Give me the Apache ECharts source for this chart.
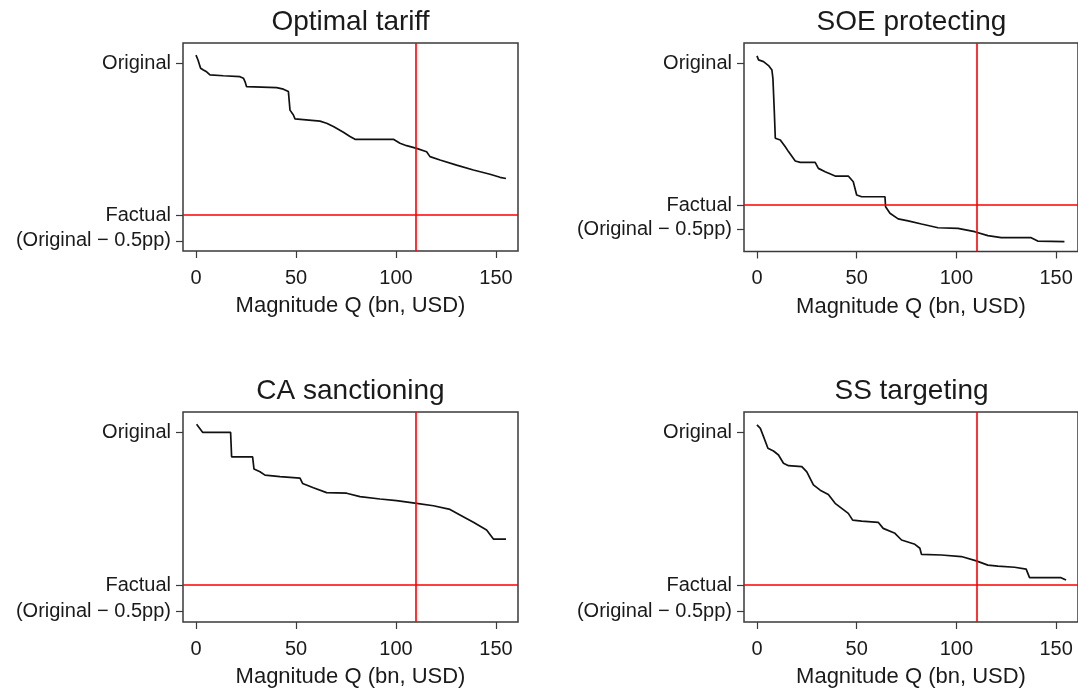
<!DOCTYPE html>
<html>
<head>
<meta charset="utf-8">
<script src="https://cdn.jsdelivr.net/npm/echarts@6/dist/echarts.min.js"></script>
<style>
html,body{margin:0;padding:0;background:#fff;}
#chart{width:1078px;height:690px;}
</style>
</head>
<body>
<div id="chart"></div>
<script>
// ---- Data ----
const panelTitles = ['Optimal tariff', 'SOE protecting', 'CA sanctioning', 'SS targeting'];
const xAxisName = 'Magnitude Q (bn, USD)';
const xTickValues = [0, 50, 100, 150];
const yTickValues = [0.5, 0, -0.085];
const yTickLabels = ['Original', 'Factual', '(Original \u2212 0.5pp)'];
const refQ = 110;      // vertical red reference line
const refFactual = 0;  // horizontal red reference line (Factual)

const optimalTariffQ = [0, 1, 2.3, 3.7, 5.3, 7, 13.7, 22, 23.7, 24.5, 25.3, 26.2, 40.3, 43.7, 46.2, 47, 48.7, 49.5, 62, 65.3, 68.7, 73.7, 77, 79.5, 98.7, 102, 105.3, 110.3, 115.3, 117, 122, 130.3, 138.7, 147, 152, 155];
const optimalTariffV = [0.526, 0.51, 0.483, 0.477, 0.471, 0.461, 0.458, 0.455, 0.45, 0.439, 0.422, 0.419, 0.419, 0.414, 0.406, 0.345, 0.329, 0.316, 0.309, 0.302, 0.291, 0.272, 0.258, 0.249, 0.249, 0.236, 0.228, 0.219, 0.208, 0.192, 0.181, 0.164, 0.148, 0.134, 0.124, 0.12];

const soeQ = [0, 0.8, 3.3, 5.8, 7.5, 8, 8.7, 9.2, 11.7, 14.2, 15.8, 19.2, 21.7, 29.2, 30.8, 34.2, 39.2, 45.8, 48.3, 50, 52.5, 64.2, 64.5, 66.7, 70.8, 75.8, 82.5, 90.8, 100.8, 109.2, 115.8, 122.5, 137.5, 140.8, 154.2];
const soeV = [0.525, 0.511, 0.505, 0.491, 0.475, 0.446, 0.329, 0.235, 0.229, 0.205, 0.188, 0.155, 0.150, 0.150, 0.129, 0.117, 0.102, 0.102, 0.082, 0.035, 0.029, 0.029, -0.006, -0.029, -0.049, -0.056, -0.067, -0.080, -0.082, -0.094, -0.108, -0.115, -0.115, -0.127, -0.129];

const caQ = [0.3, 3.3, 17.3, 17.8, 28.3, 29, 32, 34.5, 42, 52, 53.3, 58.7, 65.3, 75.3, 82, 92, 100.3, 110.3, 118.7, 127, 132, 138.7, 145.3, 148.7, 152, 155];
const caV = [0.525, 0.499, 0.499, 0.419, 0.419, 0.379, 0.370, 0.359, 0.354, 0.349, 0.332, 0.318, 0.302, 0.300, 0.289, 0.281, 0.276, 0.267, 0.259, 0.247, 0.229, 0.205, 0.180, 0.150, 0.150, 0.150];

const ssQ = [0, 1.7, 3.3, 5.5, 8.3, 10.8, 13.3, 15.8, 22.5, 25, 28.3, 31.7, 35.8, 39.2, 45.8, 48, 52.5, 60.8, 63.3, 69.2, 72.5, 79.2, 81.7, 82.5, 92.5, 102.5, 110, 115.8, 120.8, 129.2, 135, 136.7, 152.5, 155];
const ssV = [0.523, 0.512, 0.485, 0.447, 0.438, 0.425, 0.398, 0.390, 0.387, 0.370, 0.327, 0.310, 0.296, 0.267, 0.234, 0.212, 0.209, 0.205, 0.185, 0.169, 0.147, 0.133, 0.120, 0.100, 0.098, 0.093, 0.079, 0.065, 0.062, 0.058, 0.052, 0.024, 0.024, 0.016];

const panelQ = [optimalTariffQ, soeQ, caQ, ssQ];
const panelV = [optimalTariffV, soeV, caV, ssV];
const xMin = [-6.5, -6.5, -6.5, -6.5];
const xMax = [161, 161, 161, 161];
const yMin = [-0.1184, -0.1637, -0.1209, -0.1209];
const yMax = [0.5658, 0.5704, 0.5654, 0.5654];

// ---- Layout ----
const grids = [
  {left: 183, top: 43, width: 335, height: 208},
  {left: 744, top: 43, width: 335, height: 208.5},
  {left: 183, top: 412, width: 335, height: 210},
  {left: 744, top: 412, width: 335, height: 210}
];
const FONT = "'Liberation Sans', Arial, Helvetica, sans-serif";
const TXT = '#1a1a1a';

const option = {
  backgroundColor: '#ffffff',
  animation: false,
  title: grids.map((g, i) => ({
    text: panelTitles[i],
    left: g.left + g.width / 2,
    top: g.top - 35,
    textAlign: 'center',
    padding: 0,
    textStyle: {fontFamily: FONT, fontSize: 28, fontWeight: 'normal', color: TXT}
  })),
  grid: grids.map(g => Object.assign({show: true, borderColor: '#3a3a3a', borderWidth: 1.5, backgroundColor: '#fff', containLabel: false}, g)),
  xAxis: grids.map((g, i) => ({
    type: 'value', gridIndex: i, min: xMin[i], max: xMax[i],
    name: xAxisName, nameLocation: 'middle', nameGap: 44,
    nameTextStyle: {fontFamily: FONT, fontSize: 22, color: TXT},
    axisLine: {show: false, onZero: false},
    splitLine: {show: false},
    axisTick: {show: true, inside: false, length: 7, lineStyle: {color: '#3a3a3a', width: 1.2}, customValues: xTickValues},
    axisLabel: {show: true, margin: 17, fontFamily: FONT, fontSize: 20, color: TXT, customValues: xTickValues}
  })),
  yAxis: grids.map((g, i) => ({
    type: 'value', gridIndex: i, min: yMin[i], max: yMax[i],
    axisLine: {show: false, onZero: false},
    splitLine: {show: false},
    axisTick: {show: true, inside: false, length: 7, lineStyle: {color: '#3a3a3a', width: 1.2}, customValues: yTickValues},
    axisLabel: {
      show: true, margin: 12, fontFamily: FONT, fontSize: 20, color: TXT, customValues: yTickValues,
      formatter: function (v) {
        for (let k = 0; k < yTickValues.length; k++) {
          if (Math.abs(v - yTickValues[k]) < 1e-6) return yTickLabels[k];
        }
        return '';
      }
    }
  })),
  series: grids.map((g, i) => ({
    type: 'line', xAxisIndex: i, yAxisIndex: i,
    data: panelQ[i].map((q, k) => [q, panelV[i][k]]),
    showSymbol: false, symbol: 'none',
    lineStyle: {color: '#111', width: 1.7},
    z: 3,
    markLine: {
      silent: true, symbol: ['none', 'none'], animation: false,
      label: {show: false},
      lineStyle: {color: '#ff0000', width: 1.6, type: 'solid'},
      data: [{xAxis: refQ}, {yAxis: refFactual}]
    }
  }))
};

const chart = echarts.init(document.getElementById('chart'), null, {renderer: 'canvas'});
chart.setOption(option);
</script>
</body>
</html>
